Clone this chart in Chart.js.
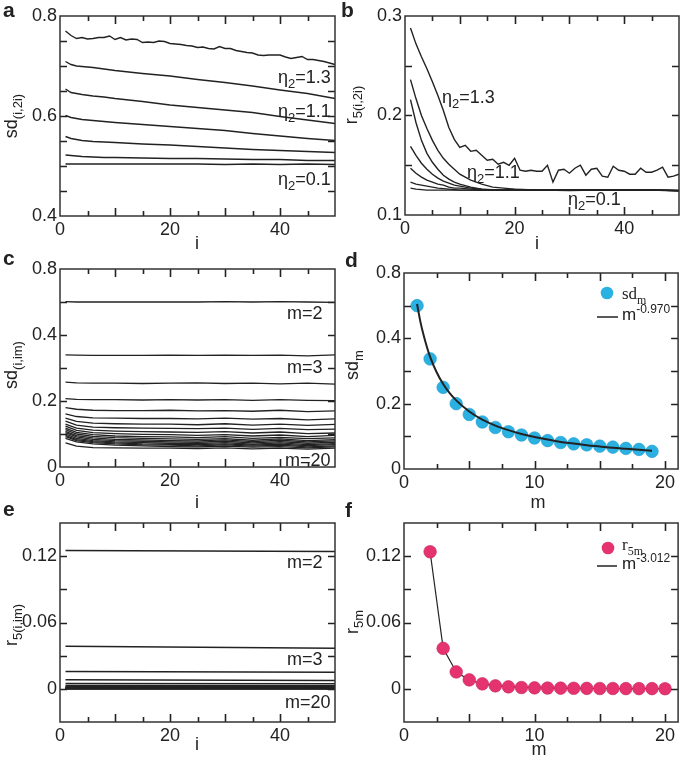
<!DOCTYPE html>
<html>
<head>
<meta charset="utf-8">
<script src="https://cdn.jsdelivr.net/npm/chart.js@4.4.1/dist/chart.umd.min.js"></script>
<style>
  body { margin: 0; background: #fff; }
  #fig { position: relative; width: 685px; height: 757px; overflow: hidden; }
  #fig canvas { position: absolute; }
</style>
</head>
<body>
<div id="fig">
  <canvas id="pa"></canvas><canvas id="pb"></canvas>
  <canvas id="pc"></canvas><canvas id="pd"></canvas>
  <canvas id="pe"></canvas><canvas id="pf"></canvas>
</div>
<script>
// ---- data ----
const iFull = [1,2,3,4,5,6,7,8,9,10,11,12,13,14,15,16,17,18,19,20,21,22,23,24,25,
               26,27,28,29,30,31,32,33,34,35,36,37,38,39,40,41,42,43,44,45,46,47,48,49,50];

// panel a: sd(i,2i), eta2 = 1.3 (full), then 1.1 .. 0.1 (sparse i)
const sdA13 = [0.770,0.761,0.755,0.757,0.754,0.755,0.757,0.757,0.760,0.753,0.757,0.752,0.754,0.753,0.747,
               0.748,0.747,0.750,0.749,0.745,0.744,0.743,0.741,0.740,0.737,0.738,0.735,0.734,0.739,0.735,
               0.735,0.731,0.729,0.727,0.726,0.722,0.721,0.722,0.722,0.722,0.718,0.715,0.717,0.719,0.713,
               0.713,0.711,0.709,0.706,0.703];
const iA = [1,2,3,4,6,8,10,15,20,25,30,35,40,45,50];
const sdArest = [
  [0.709,0.703,0.700,0.699,0.697,0.694,0.691,0.685,0.680,0.673,0.667,0.660,0.652,0.645,0.635],
  [0.654,0.647,0.645,0.643,0.640,0.638,0.635,0.629,0.622,0.617,0.612,0.607,0.599,0.592,0.585],
  [0.601,0.597,0.595,0.593,0.591,0.589,0.587,0.583,0.579,0.575,0.571,0.565,0.560,0.555,0.551],
  [0.559,0.555,0.553,0.551,0.549,0.548,0.547,0.544,0.542,0.539,0.536,0.533,0.531,0.529,0.527],
  [0.522,0.521,0.520,0.519,0.518,0.517,0.517,0.516,0.515,0.515,0.514,0.513,0.513,0.511,0.511],
  [0.504,0.504,0.504,0.504,0.504,0.504,0.504,0.504,0.504,0.504,0.503,0.504,0.503,0.504,0.503]
];

// panel b: r5(i,2i)
const r5B13 = [0.288,0.272,0.259,0.247,0.234,0.220,0.205,0.188,0.176,0.168,0.170,0.164,0.165,0.160,0.155,
               0.156,0.151,0.153,0.150,0.157,0.145,0.144,0.145,0.144,0.144,0.150,0.133,0.145,0.146,0.142,
               0.147,0.150,0.140,0.146,0.147,0.139,0.138,0.149,0.145,0.144,0.141,0.141,0.147,0.143,0.143,
               0.145,0.148,0.138,0.139,0.141];
const iB = [1,2,3,4,5,6,7,8,9,10,12,14,16,18,20,25,30,35,40,45,50];
const r5Brest = [
  [0.236,0.217,0.200,0.187,0.175,0.165,0.157,0.151,0.146,0.141,0.135,0.131,0.128,0.127,0.126,0.125,0.1255,0.125,0.1252,0.125,0.124],
  [0.216,0.193,0.175,0.162,0.153,0.146,0.140,0.136,0.133,0.131,0.128,0.126,0.125,0.125,0.1255,0.125,0.1248,0.1255,0.125,0.1255,0.1245],
  [0.169,0.160,0.152,0.146,0.141,0.137,0.134,0.132,0.130,0.129,0.127,0.126,0.1255,0.125,0.1258,0.125,0.1245,0.1252,0.1255,0.125,0.1248],
  [0.147,0.142,0.138,0.135,0.133,0.131,0.130,0.128,0.127,0.127,0.126,0.125,0.125,0.1252,0.125,0.1248,0.125,0.1255,0.125,0.1252,0.1245],
  [0.133,0.131,0.130,0.129,0.128,0.127,0.1265,0.126,0.1255,0.125,0.125,0.125,0.1252,0.125,0.1255,0.125,0.1248,0.125,0.1252,0.125,0.1245],
  [0.127,0.126,0.1255,0.125,0.125,0.125,0.125,0.125,0.125,0.125,0.125,0.1248,0.125,0.125,0.1252,0.125,0.1248,0.125,0.125,0.1252,0.1245]
];

// panel c: sd(i,im), m = 2 .. 20
const iC = [1,3,6,10,15,20,25,30,35,40,45,50];
const sdC = [
  [0.501,0.500,0.500,0.500,0.500,0.500,0.500,0.501,0.500,0.501,0.500,0.499],
  [0.340,0.339,0.338,0.338,0.338,0.339,0.338,0.339,0.338,0.339,0.337,0.340],
  [0.257,0.255,0.254,0.254,0.253,0.254,0.255,0.253,0.254,0.252,0.254,0.251],
  [0.207,0.205,0.204,0.204,0.203,0.204,0.203,0.204,0.202,0.204,0.202,0.201],
  [0.180,0.175,0.172,0.171,0.171,0.172,0.170,0.171,0.169,0.172,0.168,0.170],
  [0.161,0.153,0.149,0.148,0.147,0.147,0.146,0.148,0.145,0.147,0.143,0.146],
  [0.148,0.138,0.133,0.131,0.130,0.130,0.128,0.131,0.127,0.130,0.126,0.129],
  [0.139,0.127,0.121,0.119,0.118,0.117,0.116,0.118,0.114,0.117,0.113,0.115],
  [0.130,0.118,0.112,0.109,0.107,0.106,0.105,0.107,0.103,0.106,0.101,0.103],
  [0.124,0.111,0.104,0.101,0.099,0.098,0.096,0.098,0.094,0.097,0.092,0.096],
  [0.118,0.105,0.098,0.094,0.092,0.091,0.089,0.092,0.087,0.090,0.086,0.088],
  [0.113,0.100,0.093,0.089,0.087,0.085,0.084,0.086,0.081,0.085,0.080,0.083],
  [0.108,0.095,0.088,0.084,0.082,0.080,0.079,0.082,0.077,0.081,0.076,0.079],
  [0.104,0.091,0.084,0.080,0.078,0.076,0.075,0.078,0.073,0.077,0.072,0.075],
  [0.100,0.087,0.080,0.076,0.074,0.072,0.071,0.074,0.069,0.073,0.068,0.071],
  [0.096,0.083,0.077,0.073,0.070,0.069,0.068,0.070,0.066,0.069,0.065,0.068],
  [0.092,0.080,0.074,0.070,0.067,0.066,0.064,0.067,0.063,0.066,0.061,0.064],
  [0.087,0.076,0.070,0.066,0.064,0.062,0.061,0.063,0.060,0.062,0.058,0.061],
  [0.073,0.063,0.059,0.058,0.057,0.057,0.056,0.058,0.055,0.057,0.054,0.057]
];

// panel d: sd_m and the m^-0.970 fit
const mD = [1,2,3,4,5,6,7,8,9,10,11,12,13,14,15,16,17,18,19];
const sdM = [0.500,0.337,0.250,0.200,0.167,0.144,0.127,0.114,0.104,0.095,0.087,0.081,0.077,0.074,0.070,0.067,0.063,0.060,0.054];
const mFitD = [1,1.25,1.5,1.75,2,2.5,3,3.5,4,5,6,7,8,9,10,11,12,13,14,15,16,17,18,19];
const fitD = [0.505,0.452,0.410,0.374,0.343,0.296,0.260,0.232,0.210,0.176,0.151,0.133,0.119,0.107,0.098,0.090,0.083,0.078,0.073,0.069,0.065,0.062,0.059,0.056];

// panel e: r5(i,im), m = 2 .. 20, value at i = 1 and i = 50
const iE = [1, 50];
const r5EStart = [0.1252,0.0385,0.0157,0.0082,0.0048,0.0030,0.0020,0.0014,0.0010,0.0008,0.0006,0.0005,0.0004,0.0003,0.0003,0.0002,0.0002,0.0002,0.0001];
const r5EEnd   = [0.1243,0.0366,0.0150,0.0076,0.0045,0.0028,0.0019,0.0013,0.0010,0.0007,0.0006,0.0005,0.0004,0.0003,0.0003,0.0002,0.0002,0.0002,0.0001];

// panel f: r5m and the m^-3.012 fit
const mF = [2,3,4,5,6,7,8,9,10,11,12,13,14,15,16,17,18,19,20];
const r5M = [0.124,0.0366,0.0153,0.0081,0.0045,0.0027,0.0018,0.0012,0.0009,0.0007,0.0006,0.0005,0.0004,0.0003,0.0003,0.0002,0.0002,0.0002,0.0001];
const fitF = [0.124,0.0366,0.0153,0.0079,0.0046,0.0029,0.0019,0.0013,0.0010,0.0007,0.0006,0.0005,0.0004,0.0003,0.0003,0.0002,0.0002,0.0002,0.0001];

// tick labels
const xTickI = [0, 20, 40];
const xTickM = [0, 10, 20];
const yTickA = [0.4, 0.6, 0.8];
const yTickB = [0.1, 0.2, 0.3];
const yTickCD = [0, 0.2, 0.4, 0.6];
const yTextCD = ['0', '0.2', '0.4', '0.8'];   // top label printed as 0.8 in the figure
const yTickEF = [0, 0.06, 0.12];

// ---- drawing helpers ----
const INK = '#222';
const SANS = '"Liberation Sans", Arial, sans-serif';
const SERIF = '"Liberation Serif", "Times New Roman", serif';
const DOT_D = '#2bb0e2';
const DOT_F = '#e4336e';

function lineSet(xs, ys, width) {
    return {
        data: xs.map((x, k) => ({ x: x, y: ys[k] })),
        showLine: true, borderColor: INK, borderWidth: width || 1.4,
        pointRadius: 0, fill: false
    };
}

function tickText(vals, texts) {
    return v => {
        const k = vals.findIndex(t => Math.abs(t - v) < 1e-6);
        return k < 0 ? '' : (texts ? texts[k] : String(vals[k]));
    };
}

function isMult(v, step) {
    return Math.abs(v / step - Math.round(v / step)) < 1e-6;
}

// tick positions along an axis: min, min+step, ... up to max
function tickValues(range) {
    const out = [];
    for (let k = 0; range[0] + k * range[2] <= range[1] + 1e-9; k++) out.push(range[0] + k * range[2]);
    return out;
}

// text with sub/superscripts, drawn left to right from (x, y) on the baseline
function drawRich(ctx, parts, x, y, size, family) {
    let cx = x;
    parts.forEach(([t, k]) => {
        const s = k ? Math.round(size * 0.7) : size;
        const dy = k === 'sub' ? size * 0.28 : (k === 'sup' ? -size * 0.42 : 0);
        ctx.font = s + 'px ' + family;
        ctx.fillText(t, cx, y + dy);
        cx += ctx.measureText(t).width;
    });
}

function richWidth(ctx, parts, size, family) {
    let w = 0;
    parts.forEach(([t, k]) => {
        ctx.font = (k ? Math.round(size * 0.7) : size) + 'px ' + family;
        w += ctx.measureText(t).width;
    });
    return w;
}

function framePlugin(cell, opt) {
    return {
        id: 'frame',
        afterDraw(chart) {
            const ctx = chart.ctx;
            const a = chart.chartArea;
            const sx = chart.scales.x, sy = chart.scales.y;
            ctx.save();
            // inward ticks on all four sides (canvas coordinates)
            ctx.strokeStyle = '#222';
            ctx.lineWidth = 1.6;
            tickValues(opt.x).forEach(v => {
                const px = Math.round(sx.getPixelForValue(v)) + 0.5;
                if (px < a.left + 2 || px > a.right - 2) return;
                const len = isMult(v, opt.xMajor) ? 8 : 5;
                ctx.beginPath();
                ctx.moveTo(px, a.bottom); ctx.lineTo(px, a.bottom - len);
                ctx.moveTo(px, a.top); ctx.lineTo(px, a.top + len);
                ctx.stroke();
            });
            tickValues(opt.y).forEach(v => {
                const py = Math.round(sy.getPixelForValue(v)) + 0.5;
                if (py < a.top + 2 || py > a.bottom - 2) return;
                ctx.beginPath();
                ctx.moveTo(a.left, py); ctx.lineTo(a.left + 7, py);
                ctx.moveTo(a.right, py); ctx.lineTo(a.right - 7, py);
                ctx.stroke();
            });
            ctx.strokeStyle = '#333';
            ctx.lineWidth = 1.5;
            ctx.strokeRect(a.left, a.top, a.right - a.left, a.bottom - a.top);
            ctx.restore();

            ctx.save();
            ctx.translate(-cell.x, -cell.y);   // page coordinates for the texts
            ctx.fillStyle = INK;
            ctx.textBaseline = 'alphabetic';
            ctx.textAlign = 'left';
            // panel letter
            ctx.font = 'bold 21px ' + SANS;
            ctx.fillText(opt.letter[0], opt.letter[1], opt.letter[2]);
            // x title
            ctx.font = '18px ' + SANS;
            ctx.textAlign = 'center';
            ctx.fillText(opt.xTitle[0], opt.xTitle[1], opt.xTitle[2]);
            ctx.textAlign = 'left';
            // y title, rotated
            const yt = opt.yTitle;
            const w = richWidth(ctx, yt.parts, 18, SANS);
            ctx.save();
            ctx.translate(yt.x, yt.y);
            ctx.rotate(-Math.PI / 2);
            drawRich(ctx, yt.parts, -w / 2, 0, 18, SANS);
            ctx.restore();
            // in-plot notes
            (opt.notes || []).forEach(n => drawRich(ctx, n.parts, n.x, n.y, 18, SANS));
            // legend
            if (opt.legend) {
                const lg = opt.legend;
                ctx.beginPath();
                ctx.fillStyle = lg.color;
                ctx.arc(lg.dot[0], lg.dot[1], 6.3, 0, Math.PI * 2);
                ctx.fill();
                ctx.fillStyle = INK;
                drawRich(ctx, lg.dotText, lg.textX, lg.dotTextY, 17, SERIF);
                ctx.strokeStyle = INK;
                ctx.lineWidth = 1.5;
                ctx.beginPath();
                ctx.moveTo(lg.line[0], lg.line[2]);
                ctx.lineTo(lg.line[1], lg.line[2]);
                ctx.stroke();
                drawRich(ctx, lg.lineText, lg.textX, lg.line[2] + 3, 17, SANS);
            }
            ctx.restore();
        }
    };
}

function panel(id, cell, box, opt) {
    const cv = document.getElementById(id);
    cv.width = cell.w; cv.height = cell.h;
    cv.style.left = cell.x + 'px';
    cv.style.top = cell.y + 'px';
    const YW = 45, XH = 26;
    const pad = {
        left: box.l - cell.x - YW,
        top: box.t - cell.y,
        right: cell.x + cell.w - box.r,
        bottom: cell.y + cell.h - box.b - XH
    };
    const tickFont = { family: SANS, size: 18 };
    new Chart(cv, {
        type: 'scatter',
        data: { datasets: opt.datasets },
        options: {
            responsive: false,
            animation: false,
            events: [],
            layout: { padding: pad },
            plugins: { legend: { display: false }, tooltip: { enabled: false } },
            scales: {
                x: {
                    type: 'linear', min: opt.x[0], max: opt.x[1],
                    afterFit: s => { s.height = XH; },
                    grid: { display: false, drawTicks: false }, border: { display: false },
                    ticks: {
                        stepSize: opt.x[2], autoSkip: false, includeBounds: false, maxRotation: 0, padding: 3,
                        color: INK, font: tickFont, callback: tickText(opt.xTicks)
                    }
                },
                y: {
                    type: 'linear', min: opt.y[0], max: opt.y[1],
                    afterFit: s => { s.width = YW; },
                    grid: { display: false, drawTicks: false }, border: { display: false },
                    ticks: {
                        stepSize: opt.y[2], autoSkip: false, padding: 3,
                        color: INK, font: tickFont, callback: tickText(opt.yTicks, opt.yTexts)
                    }
                }
            }
        },
        plugins: [framePlugin(cell, opt)]
    });
}

// ---- panel a ----
panel('pa', { x: 0, y: 0, w: 340, h: 252 }, { l: 60, t: 16, r: 335, b: 216 }, {
    x: [0, 50, 5], y: [0.4, 0.8, 0.05], xMajor: 10,
    xTicks: xTickI, yTicks: yTickA,
    datasets: [lineSet(iFull, sdA13)].concat(sdArest.map(s => lineSet(iA, s))),
    letter: ['a', 3, 17],
    xTitle: ['i', 197, 249],
    yTitle: { x: 17, y: 116, parts: [['sd', ''], ['(i,2i)', 'sub']] },
    notes: [
        { x: 278, y: 83, parts: [['\u03B7', ''], ['2', 'sub'], ['=1.3', '']] },
        { x: 278, y: 117, parts: [['\u03B7', ''], ['2', 'sub'], ['=1.1', '']] },
        { x: 278, y: 185, parts: [['\u03B7', ''], ['2', 'sub'], ['=0.1', '']] }
    ]
});

// ---- panel b ----
panel('pb', { x: 340, y: 0, w: 345, h: 252 }, { l: 405, t: 16, r: 679, b: 215 }, {
    x: [0, 50, 5], y: [0.1, 0.3, 0.05], xMajor: 10,
    xTicks: xTickI, yTicks: yTickB,
    datasets: [lineSet(iFull, r5B13)].concat(r5Brest.map(s => lineSet(iB, s))),
    letter: ['b', 341, 17],
    xTitle: ['i', 537, 249],
    yTitle: { x: 357, y: 105, parts: [['r', ''], ['5(i,2i)', 'sub']] },
    notes: [
        { x: 442, y: 103, parts: [['\u03B7', ''], ['2', 'sub'], ['=1.3', '']] },
        { x: 467, y: 178, parts: [['\u03B7', ''], ['2', 'sub'], ['=1.1', '']] },
        { x: 568, y: 205, parts: [['\u03B7', ''], ['2', 'sub'], ['=0.1', '']] }
    ]
});

// ---- panel c ----
panel('pc', { x: 0, y: 250, w: 340, h: 262 }, { l: 60, t: 269, r: 335, b: 467 }, {
    x: [0, 50, 5], y: [0, 0.6, 0.1], xMajor: 10,
    xTicks: xTickI, yTicks: yTickCD, yTexts: yTextCD,
    datasets: sdC.map(s => lineSet(iC, s, 1.3)),
    letter: ['c', 3, 265],
    xTitle: ['i', 197, 508],
    yTitle: { x: 17, y: 365, parts: [['sd', ''], ['(i,im)', 'sub']] },
    notes: [
        { x: 287, y: 319, parts: [['m=2', '']] },
        { x: 287, y: 373, parts: [['m=3', '']] },
        { x: 285, y: 466, parts: [['m=20', '']] }
    ]
});

// ---- panel d ----
panel('pd', { x: 340, y: 250, w: 345, h: 262 }, { l: 404, t: 273, r: 683, b: 469 }, {
    x: [0, 21, 2.5], y: [0, 0.6, 0.1], xMajor: 5,
    xTicks: xTickM, yTicks: yTickCD, yTexts: yTextCD,
    datasets: [
        Object.assign(lineSet(mFitD, fitD, 2), { cubicInterpolationMode: 'monotone' }),
        {
            data: mD.map((m, k) => ({ x: m, y: sdM[k] })),
            pointRadius: 6.3, pointBackgroundColor: DOT_D, pointBorderColor: '#1e9dd0', pointBorderWidth: 0.6
        }
    ],
    letter: ['d', 345, 267],
    xTitle: ['m', 538, 508],
    yTitle: { x: 358, y: 365, parts: [['sd', ''], ['m', 'sub']] },
    legend: {
        color: DOT_D, dot: [607, 293], textX: 622, dotTextY: 299,
        dotText: [['sd', ''], ['m', 'sub']],
        line: [597, 618, 317],
        lineText: [['m', ''], ['-0.970', 'sup']]
    }
});

// ---- panel e ----
panel('pe', { x: 0, y: 500, w: 340, h: 257 }, { l: 60, t: 523, r: 335, b: 722 }, {
    x: [0, 50, 5], y: [-0.03, 0.15, 0.03], xMajor: 10,
    xTicks: xTickI, yTicks: yTickEF,
    datasets: r5EStart.map((s, k) => lineSet(iE, [s, r5EEnd[k]], 1.5)),
    letter: ['e', 3, 516],
    xTitle: ['i', 197, 750],
    yTitle: { x: 17, y: 625, parts: [['r', ''], ['5(i,im)', 'sub']] },
    notes: [
        { x: 287, y: 568, parts: [['m=2', '']] },
        { x: 287, y: 665, parts: [['m=3', '']] },
        { x: 285, y: 708, parts: [['m=20', '']] }
    ]
});

// ---- panel f ----
panel('pf', { x: 340, y: 500, w: 345, h: 257 }, { l: 404, t: 523, r: 683, b: 722 }, {
    x: [0, 21, 2.5], y: [-0.03, 0.15, 0.03], xMajor: 5,
    xTicks: xTickM, yTicks: yTickEF,
    datasets: [
        {
            data: mF.map((m, k) => ({ x: m, y: r5M[k] })),
            pointRadius: 6.3, pointBackgroundColor: DOT_F, pointBorderColor: '#c9245a', pointBorderWidth: 0.6
        },
        lineSet(mF, fitF, 1.2)
    ],
    letter: ['f', 345, 517],
    xTitle: ['m', 539, 755],
    yTitle: { x: 358, y: 622, parts: [['r', ''], ['5m', 'sub']] },
    legend: {
        color: DOT_F, dot: [608, 548], textX: 622, dotTextY: 550,
        dotText: [['r', ''], ['5m', 'sub']],
        line: [597, 617, 566],
        lineText: [['m', ''], ['-3.012', 'sup']]
    }
});
</script>
</body>
</html>
